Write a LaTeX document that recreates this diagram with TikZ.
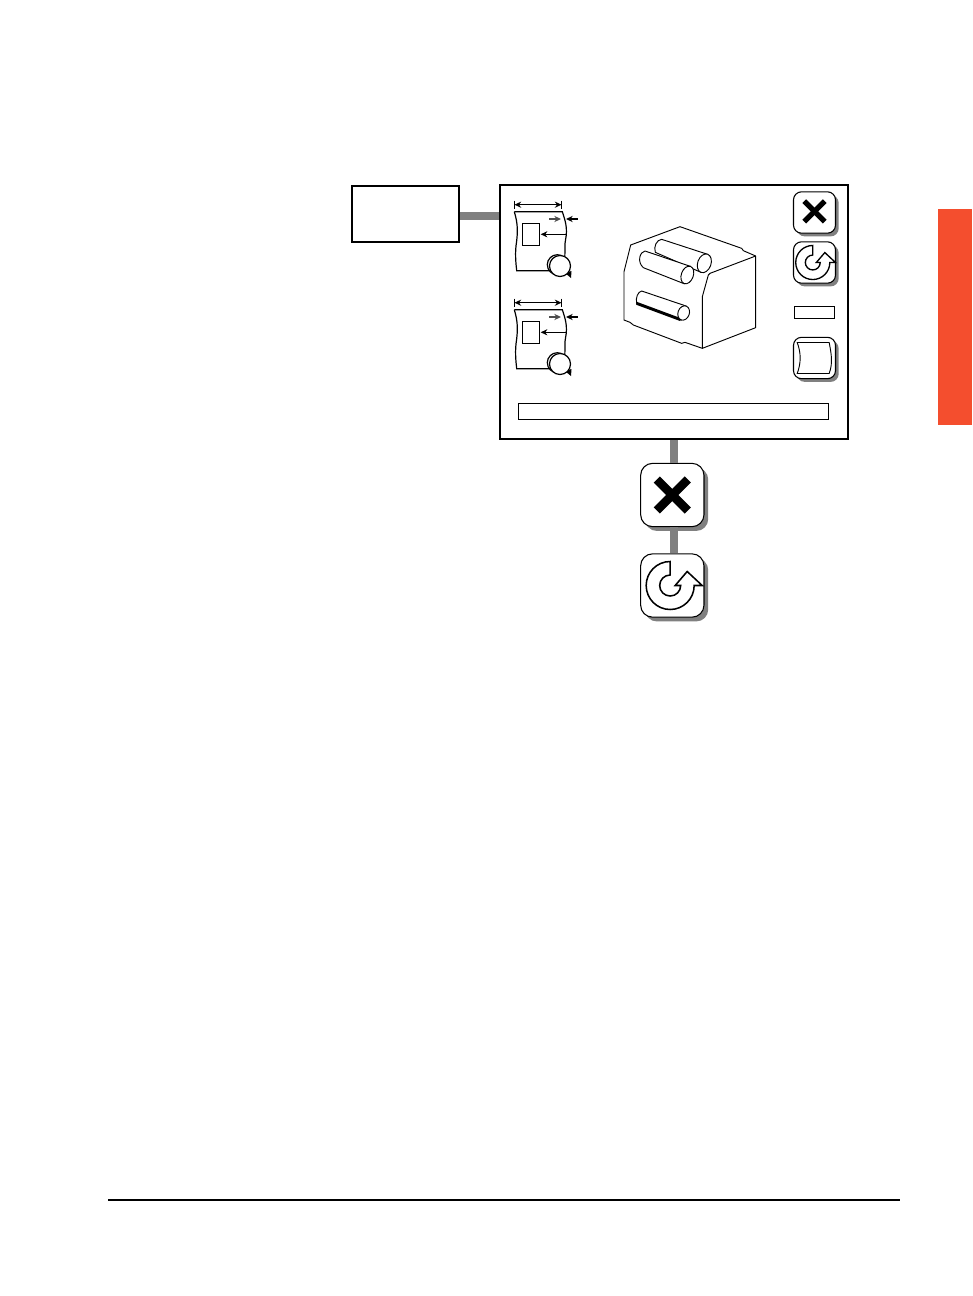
\documentclass[tikz,border=0pt]{standalone}
\usepackage{tikz}
\usetikzlibrary{
  arrows.meta,
  calc,
  shadows
}
\tikzset{
  % Plain outlined box
  plainbox/.style={
    draw=black, fill=white, line width=#1, inner sep=0pt
  },
  % Push button with a grey shadow
  iconbtn/.style 2 args={
    draw=black, fill=white, line width=0.8pt, rounded corners=#1,
    inner sep=0pt,
    drop shadow={shadow xshift=#2, shadow yshift=-#2,
                 fill=black!50, opacity=1}
  },
  % Grey link between blocks
  linkbar/.style={
    draw=black!50, line width=#1
  },
  % Small dimension arrow
  dimarrow/.style={
    -{Stealth[length=5pt,width=4.6pt]}, line width=0.8pt
  },
  dimboth/.style={
    {Stealth[length=5pt,width=4.6pt]}-{Stealth[length=5pt,width=4.6pt]},
    line width=0.8pt
  },
  % Cross sign
  pics/crossmark/.style={
    code={
      \draw[line cap=butt] (-15.5,-15.5) -- (15.5,15.5);
      \draw[line cap=butt] (15.5,-15.5) -- (-15.5,15.5);
    }
  },
  % Circular return sign
  pics/returnmark/.style={
    code={
      \draw[fill=white, line join=miter]
        (0,-24) arc[start angle=-90, end angle=-360, radius=24]
        -- (32,0) -- (17,-14) -- (5,0) -- (10.5,0)
        arc[start angle=0, end angle=270, radius=10.5] -- cycle;
    }
  },
  % Sheet with its dimension arrows
  pics/sheetmark/.style={
    code={
      \draw[dimboth] (514.5,204.7) -- (561.5,204.7);
      \draw[line width=0.8pt] (514.5,200.5) -- (514.5,208.5)
                              (561.5,200.5) -- (561.5,208.5);
      \draw[line width=0.9pt]
        (514.3,211.7) -- (562.3,211.7)
        .. controls (565,220) and (568,228) .. (565.5,240)
        .. controls (564,248) and (566,254) .. (564,260);
      \draw[line width=0.9pt]
        (514.3,211.7) .. controls (518,224) and (518,232) .. (516,246)
        .. controls (515,256) and (516,264) .. (516.7,270.7) -- (549,270.7);
      \draw[plainbox=0.7pt] (522.7,223.3) rectangle (539.3,245.7);
      \draw[dimarrow, draw=black!70] (549,219) -- (561,219);
      \draw[dimarrow] (577.7,219) -- (566,219);
      \draw[dimarrow] (565.7,234.3) -- (540.7,234.3);
      \draw[plainbox=0.9pt] (557.3,264.7) circle (10);
      \fill[black] (565,273) -- (571.5,271) -- (571,278) -- cycle;
      \draw[plainbox=0.9pt] (560,266) circle (10.5);
    }
  },
  % Sheet sign on the button
  pics/pagemark/.style={
    code={
      \draw[line width=0.7pt, fill=white]
        (-16,-15.5) -- (16,-15.5)
        .. controls (18,-5) and (20,5) .. (16,15.5)
        -- (-16,15.5)
        .. controls (-12,5) and (-12,-5) .. (-16,-15.5) -- cycle;
    }
  }
}

\begin{document}
\begin{tikzpicture}[x=0.75pt, y=-0.75pt]

% ── Page extent ───────────────────────────────────────────────────────────────
\fill[white] (0,0) rectangle (972,1296);
\useasboundingbox (0,0) rectangle (972,1296);

% ── Page furniture ────────────────────────────────────────────────────────────
\fill[fill={rgb,255:red,244;green,78;blue,46}]
  (938,209) rectangle (972,425);
\draw[line width=1.5pt] (108,1200) -- (900,1200);

% ── Blocks ────────────────────────────────────────────────────────────────────
\node[plainbox=1.5pt, minimum width=80.25pt, minimum height=42pt]
  (startbox) at (405.5,214) {};
\node[plainbox=1.5pt, minimum width=261pt, minimum height=190.5pt]
  (panel) at (674,312) {};

% Big buttons under the panel
\node[iconbtn={9pt}{3.2pt}, minimum width=47.5pt, minimum height=47.5pt]
  (closebig) at (672.3,495) {};
\node[iconbtn={9pt}{3.2pt}, minimum width=47.5pt, minimum height=47.5pt]
  (returnbig) at (672.3,585.5) {};

\draw[linkbar=5.5pt] ([yshift=-1.5pt]startbox.east) -- ([yshift=-1.5pt]startbox.east -| panel.west);
\draw[linkbar=6pt] (panel.south) -- (panel.south |- closebig.north);
\draw[linkbar=6pt] (closebig.south -| panel.south) -- (returnbig.north -| panel.south);

\pic[line width=6.5pt] at (closebig.center) {crossmark};
\pic[line width=1.15pt] at ([xshift=-1.6pt]returnbig.center) {returnmark};

% ── Buttons inside the panel ──────────────────────────────────────────────────
\foreach \name/\ypos in {closesmall/212.5, returnsmall/262.5, pagesmall/358}{
  \node[iconbtn={6pt}{2.4pt}, minimum width=31.5pt, minimum height=31pt]
    (\name) at (814.5,\ypos) {};
}
\pic[scale=0.66, line width=4pt] at ([yshift=0.8pt]closesmall.center) {crossmark};
\pic[scale=0.71, line width=1pt] at ([xshift=-1.3pt]returnsmall.center) {returnmark};
\pic at ([xshift=-1pt]pagesmall.center) {pagemark};

\node[plainbox=0.75pt, minimum width=30pt, minimum height=8.5pt]
  (valuebox) at (814,312.5) {};
\node[plainbox=0.75pt, minimum width=232pt, minimum height=12pt]
  (messagebar) at (673.5,411) {};

% ── Sheets ────────────────────────────────────────────────────────────────────
\pic at (0,0) {sheetmark};
\pic at (0,98) {sheetmark};

% ── Roller block ──────────────────────────────────────────────────────────────
\begin{scope}[shift={(610,215)}, x=0.25pt, y=-0.25pt, line width=0.7pt, fill=white]
  \draw[line join=round]
    (210,35) -- (395,100) -- (400,107) -- (437,123) -- (437,338) -- (277,400)
    -- (225,382) -- (215,385) -- (70,330) -- (60,322) -- (42,315) -- (42,170)
    -- (62,90) -- cycle;
  \draw (437,123) -- (300,175) -- (295,180) -- (277,245) -- (277,400);
  % Rear roller
  \draw[fill=white] (155,73) -- (293,118) -- (273,172) -- (136,112)
    .. controls (130,95) and (140,74) .. (155,73);
  \draw[fill=white, rotate around={-20:(283,145)}] (283,145) ellipse (20 and 29);
  % Front roller
  \draw[fill=white] (105,108) -- (241,154) -- (222,206) -- (100,158)
    .. controls (80,140) and (90,110) .. (105,108);
  \draw[fill=white, rotate around={-20:(232,180)}] (232,180) ellipse (18 and 27.5);
  % Lower roller
  \draw[fill=white] (95,228) -- (228,273) -- (214,315) -- (80,265)
    .. controls (76,248) and (84,230) .. (95,228);
  \draw[line width=2.2pt] (80,265) -- (212,314);
  \draw[fill=white, rotate around={-20:(221,294)}] (221,294) ellipse (17 and 22);
\end{scope}

\end{tikzpicture}
\end{document}
